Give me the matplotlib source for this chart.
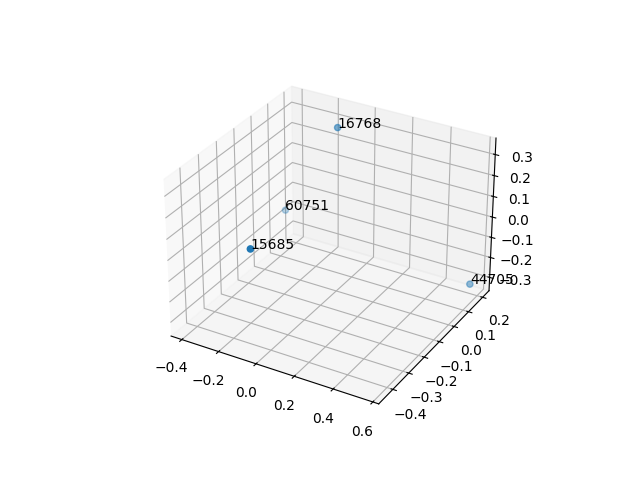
import matplotlib
matplotlib.use("Agg")
import matplotlib.pyplot as plt

labels = ["15685", "60751", "16768", "44705"]
xs = [-0.06, -0.39, -0.1, 0.56]
ys = [-0.44, 0.123, 0.125, 0.2]
zs = [0.13, -0.145, 0.33, -0.32]

fig = plt.figure()
ax = fig.add_subplot(projection="3d")
ax.scatter(xs, ys, zs)
for x, y, z, label in zip(xs, ys, zs, labels):
    ax.text(x, y, z, label)

fig.savefig("out.png")
